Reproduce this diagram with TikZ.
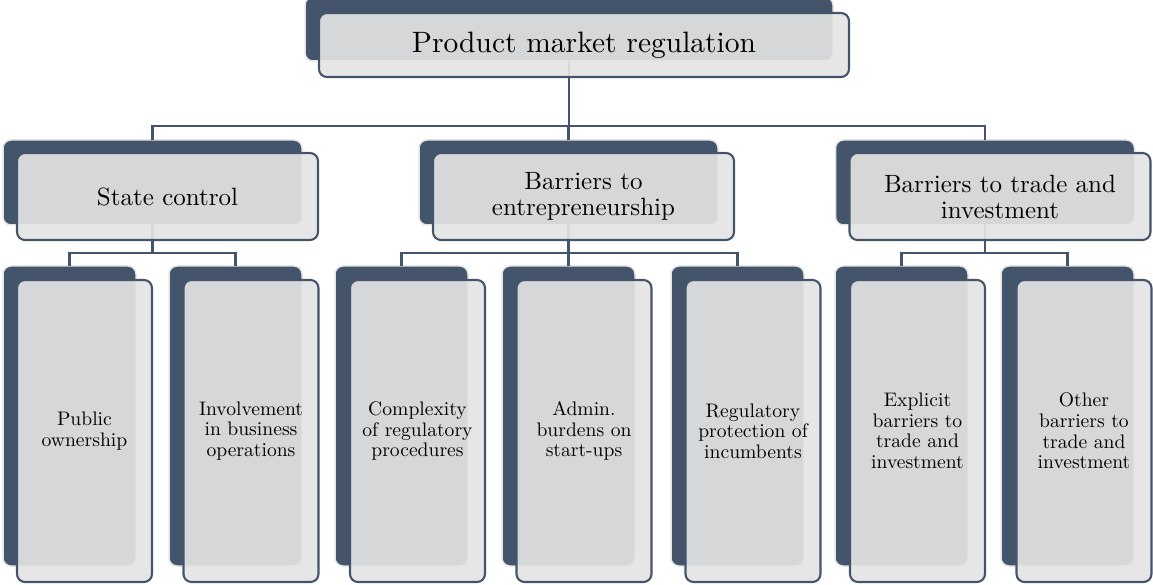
\documentclass[tikz,border=0pt]{standalone}
\usepackage{fontspec}
\setmainfont{lmroman10-regular}[Extension=.otf]
\definecolor{dkc}{RGB}{68,84,106}
\definecolor{frc}{RGB}{228,228,229}
\begin{document}
\begin{tikzpicture}[x=1pt,y=-1pt,
  dk/.style={draw=black!10, line width=1.5pt, fill=dkc, rounded corners=8pt, inner sep=0pt, outer sep=0pt},
  fr/.style={draw=dkc, line width=2.1pt, fill=frc, fill opacity=0.91, text opacity=1, rounded corners=8pt, inner sep=0pt, outer sep=0pt, align=center, text=black},
  ln/.style={draw=dkc, line width=2.4pt},
  ftop/.style={font=\fontsize{29.5}{34}\selectfont},
  fmid/.style={font=\fontsize{25}{26}\selectfont},
  fleaf/.style={font=\fontsize{19.6}{20.6}\selectfont},
  lvtwod/.style={dk, minimum width=299pt, minimum height=85pt},
  lvtwof/.style={fr, fmid, minimum width=301pt, minimum height=87pt},
  leafd/.style={dk, minimum width=133pt, minimum height=300pt},
  leaff/.style={fr, fleaf, minimum width=135pt, minimum height=302pt}]
\useasboundingbox (0,0) rectangle (1153,585);
% dark back boxes
\node[dk, minimum width=528pt, minimum height=64pt] (topd) at (569,29) {};
\node[lvtwod] (scd) at (152.5,182.5) {};
\node[lvtwod] (bed) at (568.5,182.5) {};
\node[lvtwod] (btd) at (985,182.5) {};
\node[leafd] (ad) at (69.5,416) {};
\node[leafd] (bd) at (235.5,416) {};
\node[leafd] (cd) at (401.5,416) {};
\node[leafd] (dd) at (568.5,416) {};
\node[leafd] (ed) at (737.5,416) {};
\node[leafd] (fd) at (901.5,416) {};
\node[leafd] (gd) at (1067.5,416) {};
% junction levels
\coordinate (j1) at (0,126);
\coordinate (j2) at (0,253);
% connectors
\draw[ln] (topd.south) -- (topd.south |- j1) -| (scd.north);
\draw[ln] (topd.south) -- (topd.south |- j1) -| (bed.north);
\draw[ln] (topd.south) -- (topd.south |- j1) -| (btd.north);
\draw[ln] (scd.south) -- (scd.south |- j2) -| (ad.north);
\draw[ln] (scd.south) -- (scd.south |- j2) -| (bd.north);
\draw[ln] (bed.south) -- (bed.south |- j2) -| (cd.north);
\draw[ln] (bed.south) -- (bed.south |- j2) -| (dd.north);
\draw[ln] (bed.south) -- (bed.south |- j2) -| (ed.north);
\draw[ln] (btd.south) -- (btd.south |- j2) -| (fd.north);
\draw[ln] (btd.south) -- (btd.south |- j2) -| (gd.north);
% front boxes
\node[fr, ftop, minimum width=530pt, minimum height=64pt] (top) at (584,45) {Product market regulation};
\node[lvtwof] (sc) at (167.5,196.5) {State control};
\node[lvtwof] (be) at (583.5,196.5) {Barriers to\\entrepreneurship};
\node[lvtwof] (bt) at (1000,196.5) {Barriers to trade and\\investment};
\node[leaff] (a) at (84.5,431) {Public\\ownership};
\node[leaff] (b) at (251,431) {Involvement\\in business\\operations};
\node[leaff] (c) at (417.5,431) {Complexity\\of regulatory\\procedures};
\node[leaff] (d) at (584,431) {Admin.\\burdens on\\start-ups};
\node[leaff] (e) at (753,431) {Regulatory\\protection of\\incumbents};
\node[leaff] (f) at (917.5,431) {Explicit\\barriers to\\trade and\\investment};
\node[leaff] (g) at (1084,431) {Other\\barriers to\\trade and\\investment};
\end{tikzpicture}
\end{document}
